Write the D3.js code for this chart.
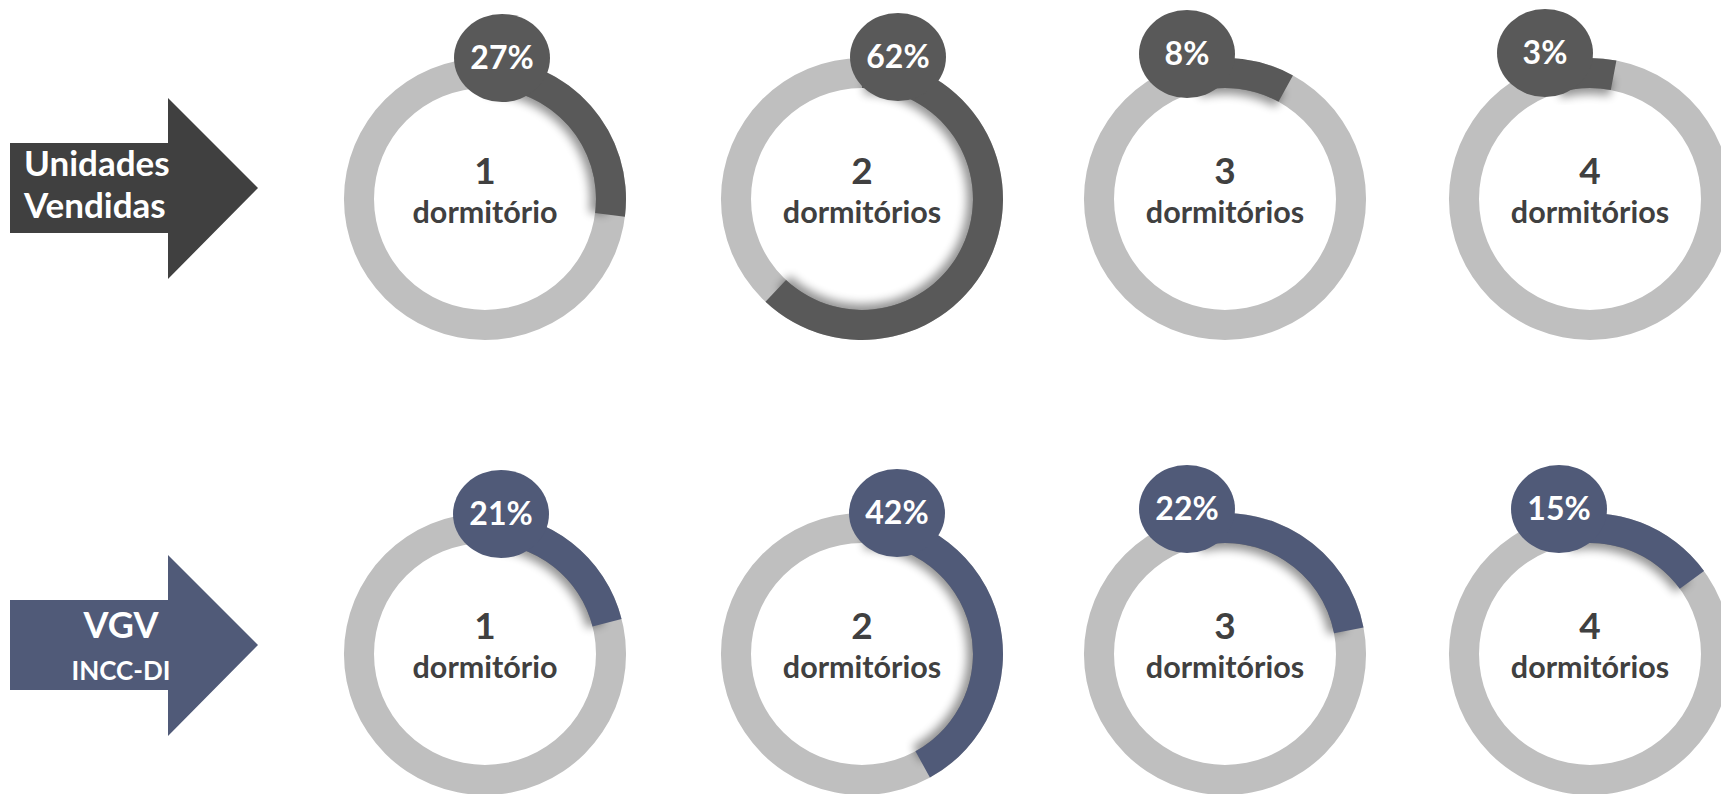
<!DOCTYPE html>
<html>
<head>
<meta charset="utf-8">
<script src="https://cdn.jsdelivr.net/npm/d3@7"></script>
<style>
  html, body { margin: 0; padding: 0; background: #fff; overflow: hidden; }
  text { font-family: Lato, "Open Sans", sans-serif; font-weight: 700; }
</style>
</head>
<body>
<svg></svg>
<script>
const width = window.innerWidth;
const height = window.innerHeight;

// data
const categories = ["1", "2", "3", "4"];
const categoryLabels = ["dormitório", "dormitórios", "dormitórios", "dormitórios"];
const unidadesVendidas = [27, 62, 8, 3];
const vgvInccDi = [21, 42, 22, 15];
const rowTitles = [["Unidades", "Vendidas"], ["VGV", "INCC-DI"]];

const rows = [
  {values: unidadesVendidas, color: "#595959", arrow: "#404040", cy: 199,
   bubble: [[17, -141], [36, -142], [-38, -145], [-45, -146]]},
  {values: vgvInccDi, color: "#505a78", arrow: "#505a78", cy: 654,
   bubble: [[16, -140], [35, -141], [-38, -145], [-31, -145]]}
];

const x = d3.scaleOrdinal()
  .domain(categories)
  .range([485, 862, 1225, 1590]);

const angle = d3.scaleLinear()
  .domain([0, 100])
  .range([0, 2 * Math.PI]);

const outerR = 141;
const innerR = 111;

const ring = d3.arc()
  .innerRadius(innerR)
  .outerRadius(outerR)
  .startAngle(0)
  .endAngle(2 * Math.PI);

// the arc starts under the bubble, so it never shows a gap
function startOf(b) {
  return Math.min(0, Math.atan2(b[0], -b[1]));
}

const valueArc = d3.arc()
  .innerRadius(innerR)
  .outerRadius(outerR);

const shadowArc = d3.arc()
  .innerRadius(innerR - 6)
  .outerRadius(innerR + 12);

const svg = d3.select("svg")
  .attr("width", width)
  .attr("height", height);

const defs = svg.append("defs");
defs.append("filter")
  .attr("id", "soft")
  .attr("x", "-30%").attr("y", "-30%")
  .attr("width", "160%").attr("height", "160%")
  .append("feGaussianBlur")
    .attr("stdDeviation", 5);

// arrows on the left
const arrowPath = function (cy) {
  return "M10," + (cy - 45) + "L168," + (cy - 45) + "L168," + (cy - 90) +
    "L258," + cy + "L168," + (cy + 91) + "L168," + (cy + 45) + "L10," + (cy + 45) + "Z";
};

svg.append("path")
  .attr("d", arrowPath(188))
  .attr("fill", rows[0].arrow);

svg.append("text")
  .attr("x", 24).attr("y", 176)
  .attr("fill", "#fff")
  .attr("font-size", 35)
  .text(rowTitles[0][0]);

svg.append("text")
  .attr("x", 24).attr("y", 218)
  .attr("fill", "#fff")
  .attr("font-size", 35)
  .text(rowTitles[0][1]);

svg.append("path")
  .attr("d", arrowPath(645))
  .attr("fill", rows[1].arrow);

svg.append("text")
  .attr("x", 121).attr("y", 638)
  .attr("text-anchor", "middle")
  .attr("fill", "#fff")
  .attr("font-size", 36)
  .text(rowTitles[1][0]);

svg.append("text")
  .attr("x", 121).attr("y", 680)
  .attr("text-anchor", "middle")
  .attr("fill", "#fff")
  .attr("font-size", 26)
  .text(rowTitles[1][1]);

// donut gauges
rows.forEach(function (row) {
  const g = svg.selectAll(null)
    .data(row.values)
    .enter()
    .append("g")
      .attr("transform", function (d, i) {
        return "translate(" + x(categories[i]) + "," + row.cy + ")";
      });

  g.append("path")
    .attr("d", ring)
    .attr("fill", "#bfbfbf");

  g.append("path")
    .attr("d", function (d, i) {
      return shadowArc({startAngle: startOf(row.bubble[i]) + 0.02, endAngle: angle(d)});
    })
    .attr("fill", "#000")
    .attr("opacity", 0.42)
    .attr("filter", "url(#soft)");

  g.append("path")
    .attr("d", function (d, i) {
      return valueArc({startAngle: startOf(row.bubble[i]), endAngle: angle(d)});
    })
    .attr("fill", row.color);

  g.append("text")
    .attr("y", -15)
    .attr("text-anchor", "middle")
    .attr("fill", "#404040")
    .attr("font-size", 37)
    .text(function (d, i) { return categories[i]; });

  g.append("text")
    .attr("y", 24)
    .attr("text-anchor", "middle")
    .attr("fill", "#404040")
    .attr("font-size", 30.5)
    .text(function (d, i) { return categoryLabels[i]; });

  g.append("ellipse")
    .attr("cx", function (d, i) { return row.bubble[i][0]; })
    .attr("cy", function (d, i) { return row.bubble[i][1]; })
    .attr("rx", 48)
    .attr("ry", 44)
    .attr("fill", row.color);

  g.append("text")
    .attr("x", function (d, i) { return row.bubble[i][0]; })
    .attr("y", function (d, i) { return row.bubble[i][1] + 11; })
    .attr("text-anchor", "middle")
    .attr("fill", "#fff")
    .attr("font-size", 32)
    .text(function (d) { return d + "%"; });
});
</script>
</body>
</html>
